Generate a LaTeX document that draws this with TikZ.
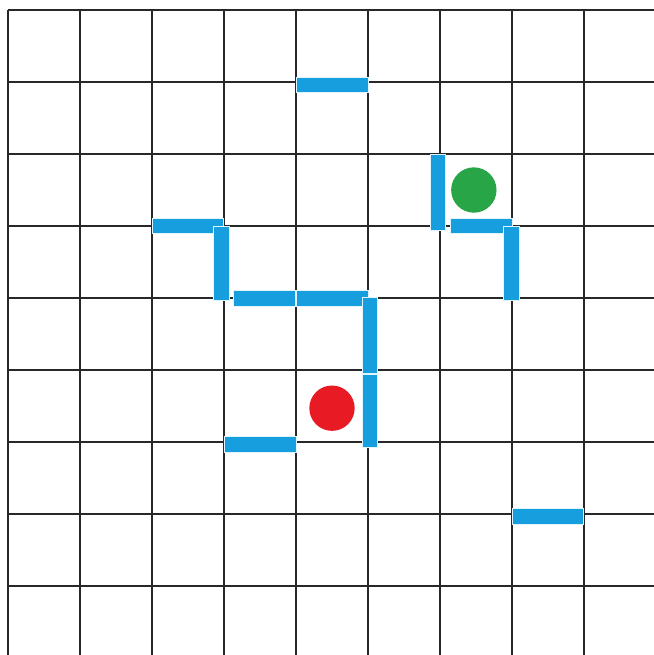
\documentclass[tikz,border=0pt]{standalone}
\usepackage{xcolor}
\usepackage{tikz}
\definecolor{wallblue}{RGB}{22,158,222}
\definecolor{goalgreen}{RGB}{40,165,70}
\definecolor{startred}{RGB}{232,26,36}
\definecolor{gridgray}{RGB}{40,40,40}

\begin{document}
\begin{tikzpicture}[x=1cm, y=-1cm,
gridline/.style={draw=gridgray, line width=0.8pt},
wall/.style={fill=wallblue, draw=cyan!12, line width=0.3pt},
token/.style={circle, inner sep=0pt, minimum size=0.63cm}
]

\fill[white] (-0.111,-0.139) rectangle (8.972,8.958);
\useasboundingbox (-0.111,-0.139) rectangle (8.972,8.958);

% grid
\foreach \i in {0,...,8} {
\draw[gridline] (\i,0) -- (\i,8.958);
\draw[gridline] (0,\i) -- (8.972,\i);
}

% walls
\foreach \xa/\ya/\xb/\yb in {4.01/0.94/5.01/1.15,
  5.86/2.01/6.07/3.06, 6.14/2.89/7.01/3.10, 6.88/3.00/7.10/4.03,
  2.00/2.89/2.99/3.10, 2.85/3.01/3.07/4.03,
  3.13/3.89/3.99/4.11, 4.01/3.89/5.00/4.11,
  4.92/3.99/5.13/5.04, 4.92/5.06/5.13/6.08,
  3.01/5.92/4.01/6.14, 7.00/6.92/7.99/7.14} {
\draw[wall] (\xa,\ya) rectangle (\xb,\yb);
}

% start and goal
\node[token, fill=goalgreen] (goal) at (6.47,2.50) {};
\node[token, fill=startred] (start) at (4.50,5.53) {};

\end{tikzpicture}
\end{document}
